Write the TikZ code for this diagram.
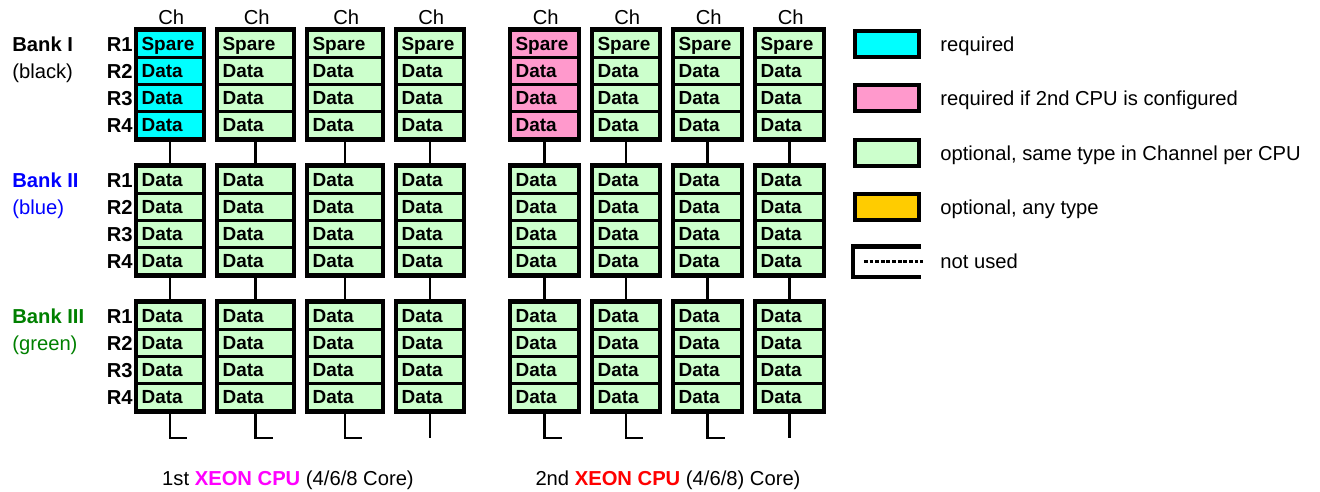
\documentclass[tikz,border=0pt]{standalone}
\usepackage{fontspec}
\setmainfont{Liberation Sans}
\usetikzlibrary{positioning}

\definecolor{reqcyan}{HTML}{00FFFF}
\definecolor{reqpink}{HTML}{FF99CC}
\definecolor{optgreen}{HTML}{CCFFCC}
\definecolor{optorange}{HTML}{FFCC00}
\definecolor{bankblue}{HTML}{0000FF}
\definecolor{bankgreen}{HTML}{008000}
\definecolor{cpumagenta}{HTML}{FF00FF}
\definecolor{cpured}{HTML}{FF0000}

\begin{document}
\begin{tikzpicture}[x=0.02cm, y=-0.02cm,
    txt/.style={font=\fontsize{11.5}{13}\selectfont, inner sep=0pt, text height=8.2pt, text depth=0pt},
    banklabel/.style={txt, font=\fontsize{11.5}{13}\selectfont\bfseries, anchor=west},
    banknote/.style={txt, anchor=west},
    ranklabel/.style={txt, font=\fontsize{11.5}{13}\selectfont\bfseries, anchor=east},
    chlabel/.style={txt, anchor=west},
    cell/.style={draw, line width=1.7pt, inner xsep=2.6pt, inner ysep=0pt, minimum height=0.54cm,
                 text height=7.5pt, text depth=0pt, align=left, font=\fontsize{10.8}{12}\selectfont\bfseries},
    module/.style={draw, line width=2.8pt, minimum height=2.22cm, inner sep=0pt},
    bus/.style={line width=1.6pt},
    legbox/.style={draw, line width=2.3pt, minimum width=1.28cm, minimum height=0.52cm, inner sep=0pt},
    legtext/.style={txt, right=0.38cm of #1}
]
\useasboundingbox (0,0) rectangle (1320,491);

% Bank labels
\node[banklabel] (bank1) at (12, 44) {Bank I};
\node[banknote] (bank1n) at (12, 71) {(black)};
\node[banklabel, text=bankblue] (bank2) at (12, 180) {Bank II};
\node[banknote, text=bankblue] (bank2n) at (12, 207) {(blue)};
\node[banklabel, text=bankgreen] (bank3) at (12, 316) {Bank III};
\node[banknote, text=bankgreen] (bank3n) at (12, 343) {(green)};

% Rank labels
\foreach \b/\by in {1/44, 2/180, 3/316}{
  \foreach \r in {1,...,4}{
    \node[ranklabel] (r-\b-\r) at (133, \by+27*\r-27) {R\r};
  }
}

% Channels: index/centre/width
\foreach \c/\cx/\w in {1/170/68, 2/255.5/77, 3/345/76, 4/430/68, 5/544.5/69, 6/626/68, 7/707.5/69, 8/789.5/69}{
  \pgfmathsetmacro\mw{\w*0.02}
  \pgfmathsetmacro\tw{(\w-2)*0.02*28.4528-5.2}
  \node[chlabel] (ch-\c) at (\cx-12, 17) {Ch};
  \foreach \b/\by in {1/44, 2/180, 3/316}{
    \def\col{optgreen}
    \ifnum\b=1 \ifnum\c=1 \def\col{reqcyan}\fi \ifnum\c=5 \def\col{reqpink}\fi\fi
    \foreach \r in {1,...,4}{
      \def\lbl{Data}
      \ifnum\b=1 \ifnum\r=1 \def\lbl{Spare}\fi\fi
      \node[cell, fill=\col, text width=\tw pt] (c-\b-\c-\r) at (\cx, \by+27*\r-27) {\lbl};
    }
    \node[module, minimum width=\mw cm] (m-\b-\c) at (\cx, \by+40.5) {};
  }
  % bus between the banks
  \draw[bus] (m-1-\c.south) -- (m-2-\c.north);
  \draw[bus] (m-2-\c.south) -- (m-3-\c.north);
  \coordinate (f-\c) at (\cx, 438);
  \ifnum\c=4 \draw[bus] (m-3-\c.south) -- (f-\c);
  \else\ifnum\c=8 \draw[bus] (m-3-\c.south) -- (f-\c);
  \else \draw[bus] (m-3-\c.south) -- (f-\c) -- ++(17,0);
  \fi\fi
}

% CPU labels
\node[txt] (cpu1) at (288, 478) {1st \textcolor{cpumagenta}{\bfseries XEON CPU} (4/6/8 Core)};
\node[txt] (cpu2) at (668, 478) {2nd \textcolor{cpured}{\bfseries XEON CPU} (4/6/8) Core)};

% Legend
\node[legbox, fill=reqcyan] (leg-req) at (887, 44) {};
\node[legtext=leg-req] (leg-req-t) {required};
\node[legbox, fill=reqpink] (leg-cpu) at (887, 98) {};
\node[legtext=leg-cpu] (leg-cpu-t) {required if 2nd CPU is configured};
\node[legbox, fill=optgreen] (leg-same) at (887, 153) {};
\node[legtext=leg-same] (leg-same-t) {optional, same type in Channel per CPU};
\node[legbox, fill=optorange] (leg-any) at (887, 207) {};
\node[legtext=leg-any] (leg-any-t) {optional, any type};
\node[legbox, draw=none] (leg-none) at (887, 261.5) {};
\draw[line width=2.3pt] (leg-none.north east) -- (leg-none.north west) -- (leg-none.south west) -- (leg-none.south east);
\draw[line width=1.6pt, dash pattern=on 2.2pt off 1pt] ([xshift=0.22cm]leg-none.west) -- ([xshift=0.04cm]leg-none.east);
\node[legtext=leg-none] (leg-none-t) {not used};

\end{tikzpicture}
\end{document}
